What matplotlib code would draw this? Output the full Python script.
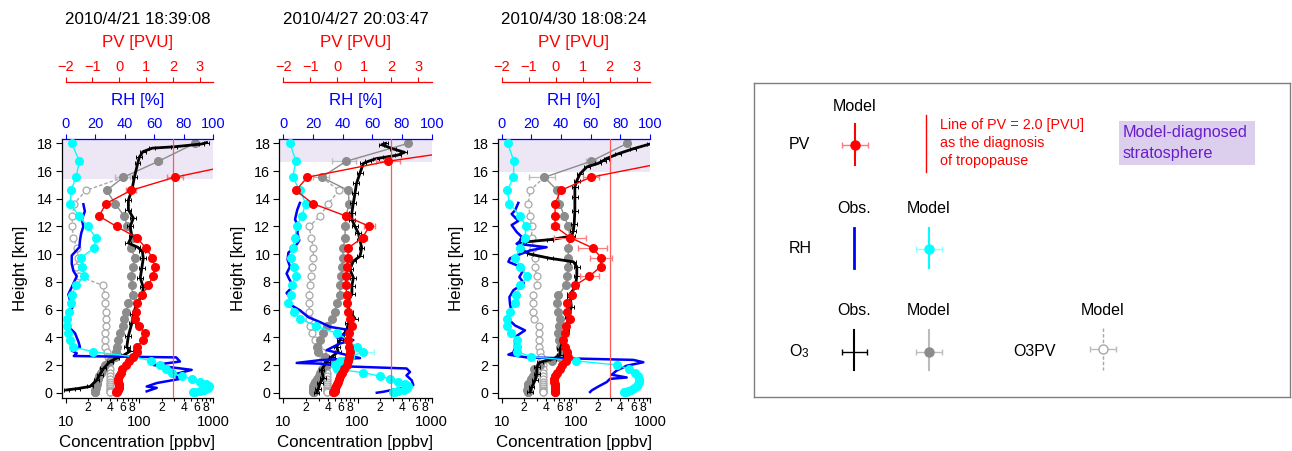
import numpy as np
import matplotlib.pyplot as plt
from matplotlib.ticker import FixedLocator, FuncFormatter

plt.rcParams['font.family'] = ['Liberation Sans', 'DejaVu Sans']

W, H = 1292, 451
nan = np.nan

# ── model levels (km) shared by the three soundings ────────────────────────────
lev_km = [18.0, 16.7, 15.55, 14.6, 13.65, 12.75, 12.0, 11.2, 10.45, 9.75, 9.1, 8.4,
          7.75, 7.05, 6.45, 5.85, 5.35, 4.8, 4.3, 3.8, 3.3, 2.95, 2.6, 2.3, 2.0, 1.7,
          1.45, 1.2, 1.0, 0.8, 0.62, 0.47, 0.34, 0.23, 0.14, 0.07, 0.02]

titles = ['2010/4/21 18:39:08', '2010/4/27 20:03:47', '2010/4/30 18:08:24']
trop_km = [15.43, 16.68, 15.9]

# ── 2010/4/21 ──────────────────────────────────────────────────────────────────
rh_mod_1 = [4.1, 9.3, 7.0, 3.6, 3.2, 9.0, 14.9, 20.4, 19.2, 10.6, 10.9, 12.7, 7.0, 4.0,
            3.4, 2.5, 0.7, 0.7, 1.8, 2.9, 5.2, 18.8, 45.9, 58.0, 64.0, 68.0, 72.0, 78.7,
            85.5, 91.2, 95.0, 97.0, 96.5, 94.0, 91.0, 88.0, 86.7]
pv_mod_1 = [8.0, 4.9, 2.07, 0.43, -0.49, -0.76, -0.1, 0.65, 0.99, 1.24, 1.33, 1.25, 1.09,
            0.84, 0.65, 0.62, 0.585, 0.75, 0.96, 0.88, 0.67, 0.65, 0.52, 0.38, 0.25, 0.12,
            0.05, 0.0, -0.04, -0.04, -0.02, 0.0, -0.02, -0.04, -0.08, -0.1, -0.12]
o3_mod_1 = [570, 181, 60.6, 36.0, 46.8, 62.0, 68.9, 81.3, 76.2, 87.5, 81.3, 76.9, 78.7,
            81.3, 70.8, 66.1, 62.0, 59.4, 54.7, 51.8, 49.2, 47.9, 46.8, 39.8, 34.2, 31.6,
            29.8, 28.7, 27.5, 26.9, 26.3, 26.0, 25.7, 25.1, 25.1, 24.9, 24.9]
o3pv_1 = [nan, nan, 60.6, 18.9, 13.0, 12.3, 12.3, 12.7, 14.1, 14.8, 13.8, 15.3, 31.7, 34.2,
          34.2, 35.4, 35.4, 35.0, 34.2, 34.2, 34.2, 36.0, 38.0, 38.7, 39.1, 39.4, 39.8,
          39.8, 39.8, 39.8, 39.8, 39.8, 39.8, 39.8, 39.8, 39.8, 39.8]
pv_err_z_1, pv_err_1 = [15.55, 14.6, 9.75, 9.1], [0.3, 0.18, 0.1, 0.1]
o3_err_z_1, o3_err_1 = [15.55, 16.7], [14, 20]
rh_err_z_1, rh_err_1 = [], []

rh_obs_z_1 = [13.6, 13.1, 12.5, 12.0, 11.5, 11.0, 10.5, 9.9, 9.3, 8.8, 8.4, 7.6, 7.1, 6.7,
              6.2, 5.7, 5.2, 4.8, 4.3, 3.7, 3.3, 3.05, 2.85, 2.65, 2.55, 2.25, 2.0, 1.65,
              1.3, 1.0, 0.7, 0.45, 0.35, 0.1]
rh_obs_1 = [12.0, 13.0, 11.0, 12.0, 10.5, 9.7, 9.3, 4.1, 4.1, 5.2, 7.5, 4.0, 1.8, 2.9, 4.7,
            2.5, 0.7, 1.6, 6.3, 8.6, 9.7, 4.1, 7.5, 5.5, 75.0, 77.6, 59.5, 85.5, 73.0, 77.6,
            61.8, 55.0, 61.8, 55.0]
o3_obs_z_1 = [18.05, 17.95, 17.75, 17.65, 17.4, 17.0, 16.55, 15.6, 14.6, 13.9, 13.2, 12.6,
              12.0, 11.3, 10.8, 10.5, 10.2, 9.7, 9.0, 8.3, 7.6, 7.1, 6.4, 5.7, 5.0, 4.1,
              3.3, 3.0, 2.7, 2.5, 2.25, 1.75, 1.3, 0.9, 0.45, 0.3, 0.2]
o3_obs_1 = [820, 700, 300, 150, 112, 100, 95, 86, 79, 71, 71, 83, 75, 79, 71, 95, 110, 113,
            108, 103, 113, 110, 92, 83, 79, 71, 67.5, 75, 61, 49, 40, 32.6, 29, 26.3, 21.4,
            14.5, 10.3]

# ── 2010/4/27 ──────────────────────────────────────────────────────────────────
rh_mod_2 = [4.5, 8.5, 6.3, 11.2, 15.1, 12.4, 9.0, 7.9, 6.3, 5.2, 7.2, 8.5, 5.6, 5.2, 3.4,
            7.2, 11.2, 22.0, 36.0, 43.8, 49.4, 53.9, 45.0, 38.0, 34.8, 36.0, 53.9, 65.0,
            72.0, 77.5, 82.0, 84.3, 83.6, 81.0, 77.5, 75.0, 74.0]
pv_mod_2 = [6.5, 1.87, -1.11, -1.53, -0.91, 0.32, 1.19, 0.94, 0.41, 0.39, 0.35, 0.32, 0.32,
            0.35, 0.35, 0.41, 0.47, 0.54, 0.45, 0.41, 0.45, 0.47, 0.45, 0.41, 0.35, 0.26,
            0.17, 0.10, 0.06, 0.04, -0.01, -0.05, -0.08, -0.09, -0.10, -0.12, -0.15]
o3_mod_2 = [485, 70.0, 32.8, 75.2, 77.0, 70.0, 68.0, 68.0, 64.3, 63.1, 61.2, 60.1, 58.1,
            58.1, 52.5, 49.7, 45.0, 38.4, 34.7, 31.2, 28.2, 29.7, 36.3, 42.7, 38.4, 33.5,
            31.6, 30.2, 28.2, 26.9, 25.7, 25.4, 25.1, 25.4, 25.7, 25.7, 25.4]
o3pv_2 = [nan, nan, 32.8, 56.2, 40.5, 31.2, 22.4, 23.7, 25.4, 25.4, 24.1, 23.3, 22.9, 22.4,
          22.4, 22.4, 22.4, 22.9, 24.1, 26.7, 29.7, 32.8, 34.7, 35.6, 36.5, 38.0, 38.4,
          38.4, 38.4, 38.4, 38.4, 38.4, 38.4, 38.4, 38.4, 38.4, 38.4]
pv_err_z_2, pv_err_2 = [16.7, 12.0, 11.2], [0.45, 0.2, 0.15]
o3_err_z_2, o3_err_2 = [16.7, 15.55], [25, 8]
rh_err_z_2, rh_err_2 = [2.95], [7.0]

rh_obs_z_2 = [13.7, 13.2, 12.5, 12.0, 11.5, 11.0, 10.7, 10.1, 9.6, 9.1, 8.6, 8.2, 7.7, 7.2,
              6.9, 6.4, 5.95, 5.45, 5.1, 4.75, 4.5, 4.3, 4.0, 3.8, 3.55, 3.07, 2.7, 2.5,
              2.35, 2.15, 2.1, 1.9, 1.75, 1.5, 1.25, 0.9, 0.55, 0.3, 0.07, 0.0]
rh_obs_2 = [11.2, 9.4, 7.9, 10.1, 9.5, 10.8, 9.0, 3.4, 2.9, 4.5, 2.2, 4.0, 6.7, 2.2, 4.5,
            4.0, 11.2, 16.9, 24.7, 31.5, 46.1, 44.0, 36.0, 47.2, 38.0, 29.2, 43.8, 51.7,
            24.7, 9.0, 24.7, 42.7, 83.1, 85.4, 83.0, 86.5, 87.6, 78.0, 67.4, 63.0]
o3_obs_z_2 = [18.0, 17.9, 17.6, 17.35, 17.15, 17.0, 16.9, 16.7, 16.55, 15.85, 15.1, 14.4,
              13.7, 13.0, 12.5, 12.0, 11.5, 11.0, 10.45, 9.85, 9.5, 8.9, 8.3, 7.7, 7.1,
              6.45, 5.85, 5.35, 5.0, 4.5, 4.05, 3.8, 3.3, 2.95, 2.6, 2.25, 1.65, 1.05, 0.7,
              0.3, 0.0]
o3_obs_2 = [240, 212, 300, 430, 350, 240, 180, 140, 120, 108, 97, 92.5, 88, 84, 84, 92.5,
            103, 108, 114, 108, 88, 79, 88, 84, 84, 71.5, 79, 92.5, 75, 71.5, 61, 58, 52.5,
            55, 45, 38.5, 32.8, 34.7, 31.2, 29.7, 28.2]

# ── 2010/4/30 ──────────────────────────────────────────────────────────────────
rh_mod_3 = [4.0, 8.3, 7.9, 3.8, 5.2, 12.4, 16.4, 15.7, 12.4, 9.0, 12.4, 17.3, 12.4, 9.7,
            9.0, 5.6, 3.4, 3.4, 6.3, 10.1, 10.6, 10.6, 20.0, 50.0, 78.0, 86.0, 90.0, 92.0,
            92.3, 92.3, 92.0, 91.0, 89.5, 87.5, 85.5, 84.0, 82.5]
pv_mod_3 = [7.0, 4.3, 1.3, 0.19, -0.02, -0.02, -0.02, 0.54, 1.37, 1.69, 1.67, 1.25, 0.72,
            0.59, 0.41, 0.44, 0.54, 0.39, 0.35, 0.29, 0.35, 0.41, 0.47, 0.37, 0.22, 0.15,
            0.06, -0.02, -0.05, -0.05, -0.02, -0.01, -0.02, -0.02, -0.02, -0.02, -0.02]
o3_mod_3 = [494, 160, 37.7, 56.2, 60.1, 70.0, 79.0, 83.6, 79.0, 79.0, 79.0, 76.9, 72.8,
            58.1, 55.2, 58.1, 61.2, 60.1, 58.1, 60.1, 61.2, 66.1, 60.0, 47.3, 32.8, 27.5,
            28.2, 26.7, 25.1, 24.0, 22.9, 22.7, 22.4, 22.0, 22.4, 22.7, 22.9]
o3pv_3 = [nan, nan, 37.7, 24.1, 22.9, 24.1, 25.4, 25.4, 26.7, 28.2, 27.8, 29.7, 30.2, 26.2,
          26.2, 26.2, 27.5, 32.3, 32.3, 32.3, 32.3, 32.8, 33.9, 34.7, 35.6, 36.5, 36.5,
          36.0, 36.0, 36.0, 36.0, 36.0, 36.0, 36.0, 36.0, 36.0, 36.0]
pv_err_z_3 = [15.55, 12.0, 11.2, 10.45, 9.75, 8.4]
pv_err_3 = [0.3, 0.15, 0.6, 0.55, 0.4, 0.35]
o3_err_z_3, o3_err_3 = [15.55, 16.7], [14, 25]
rh_err_z_3, rh_err_3 = [], []

rh_obs_z_3 = [13.7, 13.15, 12.9, 12.4, 12.1, 11.6, 11.25, 10.9, 10.75, 10.5, 10.27, 9.9,
              9.7, 9.45, 9.2, 8.85, 8.35, 7.9, 7.4, 6.9, 6.4, 5.8, 5.45, 5.2, 4.85, 4.5,
              4.1, 3.75, 3.3, 2.9, 2.75, 2.55, 2.37, 2.2, 1.95, 1.6, 1.3, 1.1, 1.0, 0.77,
              0.45, 0.17, 0.05]
rh_obs_3 = [11.2, 9.0, 6.7, 11.2, 6.7, 10.1, 13.5, 11.9, 10.0, 30.3, 19.1, 10.1, 5.6, 4.5,
            10.1, 14.6, 11.9, 15.0, 7.9, 5.2, 5.6, 6.7, 3.4, 5.6, 9.0, 15.7, 10.1, 9.0, 9.0,
            7.9, 4.5, 16.9, 88.8, 95.5, 84.3, 77.5, 74.2, 84.3, 73.0, 70.8, 65.2, 60.7, 59.6]
o3_obs_z_3 = [17.95, 17.6, 17.25, 16.9, 16.75, 16.55, 16.3, 15.8, 15.3, 14.85, 14.1, 13.15,
              12.2, 11.7, 11.3, 11.05, 10.87, 10.6, 10.3, 10.0, 9.7, 9.45, 9.1, 8.4, 7.6,
              7.15, 6.9, 6.2, 5.45, 4.5, 3.75, 3.15, 2.7, 2.45, 2.2, 1.85, 1.35, 0.9, 0.4,
              0.05]
o3_obs_3 = [1000, 590, 375, 260, 234, 200, 141, 114, 103, 97, 97, 97, 95, 92.5, 88, 45,
            19.6, 17.7, 18.6, 24.1, 45, 92.5, 103, 103, 98, 84, 84, 87, 79, 75, 68, 61, 61,
            49.7, 32.8, 29.7, 29.7, 28.2, 25.4, 24.1]

# ── styling ────────────────────────────────────────────────────────────────────
RED, RED_LT = '#ff0000', '#ff7a7a'
BLUE = '#0000ff'
CYAN, CYAN_LT = '#00ffff', '#8cffff'
GRAY, GRAY_LT = '#8c8c8c', '#bcbcbc'
O3PV_C = '#a8a8a8'
SHADE = '#ece6f5'
TROP_LINE = '#ff5a5a'

AX_TOP, AX_BOT = 139, 398          # pixel rows of the profile boxes
PV_SPINE = 1 + 57 / (AX_BOT - AX_TOP)


def minor_fmt(v, pos):
    m = int(round(v / 10 ** np.floor(np.log10(v))))
    return str(m) if m in (2, 4, 6, 8) else ''


def err_rows(z_list, levels):
    return [levels.index(z) for z in z_list]


def draw_panel(x0, x1, title, trop, rh_mod, pv_mod, o3_mod, o3pv,
               pv_ez, pv_e, o3_ez, o3_e, rh_ez, rh_e,
               rh_oz, rh_o, o3_oz, o3_o):
    # x0: pixel column of 10 ppbv / 0 % / -2 PVU, x1: column of 1000 / 100 / 3.5
    left = x0 - 4
    ax = fig.add_axes([left / W, (H - AX_BOT) / H, (x1 - left) / W, (AX_BOT - AX_TOP) / H])
    p = (x0 - left) / (x1 - x0)
    ax.set_xscale('log')
    ax.set_xlim(10 ** (1 - 2 * p), 1000)
    ax.set_ylim(-0.38, 18.31)
    ax.set_facecolor('none')

    lev = np.array(lev_km)
    ax.axhspan(trop, 20, color=SHADE, lw=0, zorder=0)

    # ozone: O3PV, model, obs
    ax.plot(o3pv, lev, color=O3PV_C, ls=(0, (2.5, 1.5)), lw=1.0, marker='o', ms=5,
            mfc='white', mec=O3PV_C, mew=0.9, zorder=2)
    i = err_rows(o3_ez, lev_km)
    ax.errorbar(np.array(o3_mod)[i], lev[i], xerr=o3_e, fmt='none', ecolor=GRAY_LT,
                elinewidth=0.9, capsize=2.5, zorder=2)
    ax.plot(o3_mod, lev, color=GRAY, lw=1.0, marker='o', ms=5.5, mec=GRAY, zorder=3)
    o3_o = np.array(o3_o)
    ax.errorbar(o3_o, o3_oz, xerr=0.09 * o3_o, fmt='-', color='k', lw=2.0,
                elinewidth=0.7, capsize=1.6, capthick=0.7, zorder=4)

    for s in ('top', 'right'):
        ax.spines[s].set_visible(False)
    ax.spines['left'].set_linewidth(0.9)
    ax.spines['bottom'].set_linewidth(0.9)
    ax.set_yticks(range(0, 19, 2))
    ax.tick_params(axis='y', direction='out', length=4.5, width=0.8, labelsize=10.3, pad=2)
    ax.xaxis.set_major_locator(FixedLocator([10, 100, 1000]))
    ax.xaxis.set_minor_locator(FixedLocator([m * d for d in (10, 100) for m in range(2, 10)]))
    ax.xaxis.set_minor_formatter(FuncFormatter(minor_fmt))
    ax.xaxis.set_major_formatter(FuncFormatter(lambda v, pos: '%d' % v))
    ax.tick_params(axis='x', which='major', length=3.5, width=0.8, labelsize=10.5, pad=9)
    ax.tick_params(axis='x', which='minor', length=2.5, width=0.8, labelsize=8.7, pad=0.5)
    ax.text(-41 / (x1 - left), 0.5, 'Height [km]', transform=ax.transAxes, rotation=90,
            ha='center', va='center', fontsize=12.2)
    ax.text(0.5, -0.17, 'Concentration [ppbv]', transform=ax.transAxes,
            ha='center', va='center', fontsize=12.2)

    # relative humidity on the blue axis
    axr = ax.twiny()
    axr.set_xlim(-100 * p, 100)
    axr.plot(rh_o, rh_oz, color=BLUE, lw=1.8, zorder=3)
    i = err_rows(rh_ez, lev_km)
    if i:
        axr.errorbar(np.array(rh_mod)[i], lev[i], xerr=rh_e, fmt='none', ecolor=CYAN_LT,
                     elinewidth=0.9, capsize=2.5)
    axr.plot(rh_mod, lev, color=CYAN, lw=1.0, marker='o', ms=5.5, mec=CYAN, zorder=4)
    for s in ('left', 'right', 'bottom'):
        axr.spines[s].set_visible(False)
    axr.spines['top'].set_color(BLUE)
    axr.spines['top'].set_linewidth(0.9)
    axr.set_xticks(range(0, 101, 20))
    axr.tick_params(axis='x', colors=BLUE, length=3.6, width=0.8, labelsize=10.5, pad=2.5)
    axr.text(0.5, 1.148, 'RH [%]', transform=axr.transAxes, color=BLUE,
             ha='center', va='center', fontsize=12.2)

    # potential vorticity on the red axis
    axp = ax.twiny()
    axp.set_xlim(-2 - 5.5 * p, 3.5)
    axp.axvline(2.0, color=TROP_LINE, lw=0.9, zorder=1)
    i = err_rows(pv_ez, lev_km)
    axp.errorbar(np.array(pv_mod)[i], lev[i], xerr=pv_e, fmt='none', ecolor=RED_LT,
                 elinewidth=0.9, capsize=2.5, zorder=2)
    axp.plot(pv_mod, lev, color=RED, lw=1.0, marker='o', ms=5.5, mec=RED, zorder=3)
    for s in ('left', 'right', 'bottom'):
        axp.spines[s].set_visible(False)
    axp.spines['top'].set_position(('axes', PV_SPINE))
    axp.spines['top'].set_bounds(-2, 3.5)
    axp.spines['top'].set_color(RED)
    axp.spines['top'].set_linewidth(0.9)
    axp.set_xticks(range(-2, 4))
    axp.tick_params(axis='x', colors=RED, length=3.6, width=0.8, labelsize=10.5, pad=2.5)
    axp.text(0.5, 1.372, 'PV [PVU]', transform=axp.transAxes, color=RED,
             ha='center', va='center', fontsize=12.2)
    axp.text(0.5, 1.46, title, transform=axp.transAxes,
             ha='center', va='center', fontsize=12.2)


fig = plt.figure(figsize=(W / 100, H / 100), dpi=100)

draw_panel(65.7, 213, titles[0], trop_km[0], rh_mod_1, pv_mod_1, o3_mod_1, o3pv_1,
           pv_err_z_1, pv_err_1, o3_err_z_1, o3_err_1, rh_err_z_1, rh_err_1,
           rh_obs_z_1, rh_obs_1, o3_obs_z_1, o3_obs_1)
draw_panel(283.3, 431.7, titles[1], trop_km[1], rh_mod_2, pv_mod_2, o3_mod_2, o3pv_2,
           pv_err_z_2, pv_err_2, o3_err_z_2, o3_err_2, rh_err_z_2, rh_err_2,
           rh_obs_z_2, rh_obs_2, o3_obs_z_2, o3_obs_2)
draw_panel(501.7, 650, titles[2], trop_km[2], rh_mod_3, pv_mod_3, o3_mod_3, o3pv_3,
           pv_err_z_3, pv_err_3, o3_err_z_3, o3_err_3, rh_err_z_3, rh_err_3,
           rh_obs_z_3, rh_obs_3, o3_obs_z_3, o3_obs_3)

# ── key panel (pixel coordinates) ──────────────────────────────────────────────
axl = fig.add_axes([754 / W, (H - 397) / H, (1290 - 754) / W, (397 - 83) / H])
axl.set_xlim(754, 1290)
axl.set_ylim(397, 83)
axl.set_xticks([])
axl.set_yticks([])
for s in axl.spines.values():
    s.set_color('#7f7f7f')
    s.set_linewidth(1.0)

kw = dict(ha='center', va='center', fontsize=11.5)
axl.text(855, 107, 'Model', **kw)
axl.text(789, 145, 'PV', ha='left', va='center', fontsize=11.5)
axl.plot([855, 855], [124, 165], color=RED, lw=1.5)
axl.errorbar([855], [145], xerr=[13], fmt='none', ecolor=RED_LT, elinewidth=1.0, capsize=2.5)
axl.plot([855], [145], 'o', color=RED, ms=6.5)
axl.plot([926, 926], [115, 172], color=RED, lw=1.0)
for k, line in enumerate(['Line of PV = 2.0 [PVU]', 'as the diagnosis', 'of tropopause']):
    axl.text(940, 125 + 18 * k, line, color=RED, ha='left', va='center', fontsize=10.4)
axl.add_patch(plt.Rectangle((1119, 121.5), 136, 43.5, color='#dccfee', lw=0))
axl.text(1123, 133, 'Model-diagnosed', color='#6a1ccc', ha='left', va='center', fontsize=11.7)
axl.text(1123, 153.5, 'stratosphere', color='#6a1ccc', ha='left', va='center', fontsize=11.7)

axl.text(854, 209, 'Obs.', **kw)
axl.text(929, 209, 'Model', **kw)
axl.text(789, 249, 'RH', ha='left', va='center', fontsize=11.5)
axl.plot([854, 854], [228, 268], color=BLUE, lw=2.0)
axl.plot([929, 929], [228, 268], color=CYAN, lw=1.5)
axl.errorbar([929], [249], xerr=[13], fmt='none', ecolor=CYAN_LT, elinewidth=1.0, capsize=2.5)
axl.plot([929], [249], 'o', color=CYAN, ms=6.5)

axl.text(854, 311, 'Obs.', **kw)
axl.text(929, 311, 'Model', **kw)
axl.text(1103, 311, 'Model', **kw)
axl.text(789, 352, 'O', ha='left', va='center', fontsize=11.5)
axl.text(802, 354, '3', ha='left', va='center', fontsize=8.5)
axl.plot([854, 854], [330, 370], color='k', lw=1.5)
axl.errorbar([854], [352], xerr=[12.5], fmt='none', ecolor='k', elinewidth=1.0, capsize=2.5)
axl.plot([929, 929], [330, 370], color=GRAY_LT, lw=1.5)
axl.errorbar([929], [352], xerr=[13], fmt='none', ecolor=GRAY_LT, elinewidth=1.0, capsize=2.5)
axl.plot([929], [352], 'o', color=GRAY, ms=6.5)
axl.text(1013, 352, 'O3PV', ha='left', va='center', fontsize=11.5)
axl.plot([1103, 1103], [328, 370], color=O3PV_C, lw=1.0, ls=(0, (2.5, 1.5)))
axl.errorbar([1103], [349], xerr=[13], fmt='none', ecolor=GRAY_LT, elinewidth=1.0, capsize=2.5)
axl.plot([1103], [349], 'o', mfc='white', mec=O3PV_C, ms=6.5, mew=1.0)

fig.savefig('out.png', dpi=100)
